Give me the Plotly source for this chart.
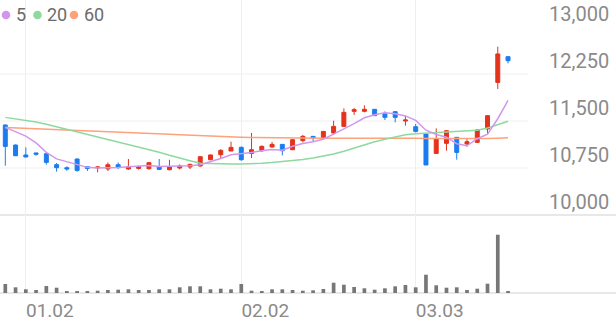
import plotly.graph_objects as go

# ---------------- data ----------------
idx = list(range(50))
opens = [11436, 11117, 10958, 10990, 10978, 10803, 10755, 10894, 10771, 10750,
         10734, 10803, 10734, 10744, 10739, 10771, 10723, 10750, 10766, 10782,
         10882, 10962, 11021, 11079, 10983, 11026, 11085, 11127, 11042, 11186,
         11255, 11229, 11309, 11414, 11654, 11654, 11686, 11622, 11649, 11500,
         11409, 11293, 10983, 11143, 11239, 11133, 11159, 11373, 12116, 12526]
highs = [11445, 11125, 11079, 10995, 10985, 10830, 10776, 10900, 10775, 10782,
         10839, 10839, 10894, 10787, 10846, 10894, 10882, 10808, 10819, 10935,
         10965, 11053, 11170, 11095, 11308, 11111, 11165, 11133, 11210, 11277,
         11260, 11340, 11505, 11701, 11707, 11750, 11692, 11654, 11655, 11585,
         11452, 11300, 11382, 11350, 11245, 11213, 11362, 11590, 12686, 12530]
lows = [10787, 10940, 10920, 10946, 10803, 10691, 10707, 10691, 10702, 10680,
        10702, 10734, 10723, 10723, 10723, 10723, 10712, 10728, 10734, 10771,
        10875, 10894, 11021, 10867, 10910, 11005, 11074, 10951, 11035, 11159,
        11175, 11225, 11282, 11404, 11596, 11638, 11580, 11516, 11478, 11425,
        11318, 10798, 10983, 11026, 10883, 11090, 11155, 11293, 12011, 12420]
closes = [11095, 10946, 10926, 10970, 10840, 10755, 10734, 10712, 10744, 10766,
          10803, 10760, 10771, 10771, 10835, 10728, 10766, 10782, 10808, 10930,
          10958, 11031, 11079, 10882, 11042, 11095, 11127, 11026, 11202, 11255,
          11229, 11334, 11414, 11638, 11681, 11686, 11585, 11558, 11558, 11516,
          11334, 10798, 11213, 11345, 10999, 11170, 11357, 11585, 12570, 12462]
volumes = [90000, 57000, 37000, 30000, 70000, 53000, 17000, 17000, 17000, 23000,
           30000, 33000, 37000, 30000, 30000, 37000, 37000, 57000, 67000, 67000,
           37000, 43000, 37000, 90000, 23000, 20000, 37000, 37000, 30000, 23000,
           27000, 40000, 103000, 83000, 60000, 47000, 33000, 47000, 67000, 80000,
           57000, 183000, 77000, 53000, 57000, 30000, 43000, 93000, 583000, 13000]
ma5 = [11398, 11330, 11260, 11150, 11000, 10895, 10850, 10808, 10760, 10750,
       10752, 10757, 10769, 10774, 10788, 10773, 10774, 10776, 10784, 10803,
       10849, 10902, 10961, 10976, 10998, 11026, 11045, 11034, 11098, 11141,
       11168, 11209, 11287, 11374, 11459, 11551, 11601, 11630, 11614, 11581,
       11510, 11353, 11284, 11241, 11138, 11105, 11217, 11291, 11536, 11829]
ma20 = [11558, 11537, 11513, 11484, 11449, 11409, 11369, 11329, 11290, 11250,
        11210, 11170, 11130, 11090, 11050, 11002, 10954, 10906, 10867, 10827,
        10819, 10814, 10814, 10814, 10816, 10827, 10838, 10851, 10867, 10886,
        10910, 10938, 10974, 11018, 11069, 11122, 11170, 11210, 11250, 11282,
        11298, 11306, 11314, 11318, 11325, 11334, 11352, 11388, 11441, 11497]
ma60 = [11398, 11392, 11385, 11378, 11372, 11365, 11358, 11352, 11345, 11339,
        11333, 11327, 11320, 11313, 11305, 11297, 11289, 11281, 11273, 11264,
        11255, 11249, 11244, 11240, 11236, 11233, 11231, 11229, 11228, 11227,
        11226, 11226, 11226, 11227, 11228, 11229, 11229, 11229, 11228, 11226,
        11224, 11220, 11218, 11216, 11214, 11214, 11216, 11220, 11226, 11232]
x_tick_pos = [2, 23, 40]
x_tick_text = ["01.02", "02.02", "03.03"]
y_ticks = [10000, 10750, 11500, 12250, 13000]
y_tick_text = ["10,000", "10,750", "11,500", "12,250", "13,000"]
ma_names = ["5", "20", "60"]

# ---------------- style ----------------
W, H = 616, 321
PL, PR, PT, PB = 0, 88, 0, 28
PW, PH = W - PL - PR, H - PT - PB
RED, BLUE = "#e5321c", "#1a7cf0"
MA_COLORS = ["#d197ee", "#8ed99e", "#fda27b"]
GRID = "#efefef"
SPLIT = 78 / PH


def px2x(px):
    return (px - PL) / PW


def py2y(py):
    return (PH + PT - py) / PH


fig = go.Figure()
fig.add_trace(go.Candlestick(
    x=idx, open=opens, high=highs, low=lows, close=closes,
    increasing=dict(line=dict(color=RED, width=1), fillcolor=RED),
    decreasing=dict(line=dict(color=BLUE, width=1), fillcolor=BLUE),
    whiskerwidth=0, xaxis="x", yaxis="y", hoverinfo="skip"))
for vals, col in zip([ma60, ma20, ma5], MA_COLORS[::-1]):
    fig.add_trace(go.Scatter(x=idx, y=vals, mode="lines",
                             line=dict(color=col, width=1.5),
                             xaxis="x", yaxis="y", hoverinfo="skip"))
fig.add_trace(go.Bar(x=idx, y=volumes, marker=dict(color="#777777", line=dict(width=0)),
                     width=0.36, xaxis="x", yaxis="y2", hoverinfo="skip"))

shapes = []
for v in y_ticks[1:-1]:
    shapes.append(dict(type="line", xref="paper", yref="y", x0=0, x1=1, y0=v, y1=v,
                       line=dict(color=GRID, width=1), layer="below"))
# full-width separators
for yy in [SPLIT, 0]:
    shapes.append(dict(type="line", xref="paper", yref="paper", x0=0, x1=W / PW,
                       y0=yy, y1=yy, line=dict(color="#e8e8e8", width=2), layer="below"))

annotations = []
dot_cx = [6, 37.5, 74]
txt_x = [13.5, 45, 81.5]
for name, col, cx, tx in zip(ma_names, MA_COLORS, dot_cx, txt_x):
    r = 4.3
    shapes.append(dict(type="circle", xref="paper", yref="paper",
                       x0=px2x(cx - r), x1=px2x(cx + r), y0=py2y(15 + r), y1=py2y(15 - r),
                       fillcolor=col, line=dict(width=0)))
    annotations.append(dict(xref="paper", yref="paper", x=px2x(tx), y=py2y(15),
                            xanchor="left", yanchor="middle", text=name, showarrow=False,
                            font=dict(family="Roboto", size=18, color="#6b6b6b")))

x0 = -(5.3 - 0) / 10.26
fig.update_layout(
    width=W, height=H, margin=dict(l=PL, r=PR, t=PT, b=PB),
    paper_bgcolor="white", plot_bgcolor="white",
    showlegend=False, hovermode=False, boxgap=0.45,
    shapes=shapes, annotations=annotations,
    xaxis=dict(anchor="y2", range=[x0, x0 + PW / 10.26], rangeslider=dict(visible=False),
               tickmode="array", tickvals=x_tick_pos, ticktext=x_tick_text,
               showgrid=True, gridcolor=GRID, gridwidth=1, zeroline=False,
               showline=False, ticks="", ticklabelshift=24, ticklabelstandoff=4,
               tickfont=dict(family="Roboto", size=19, color="#8a8a8a")),
    yaxis=dict(domain=[SPLIT, 1], range=[10000, 10000 + 215 * 750 / 47], side="right",
               anchor="x", tickmode="array", tickvals=y_ticks, ticktext=y_tick_text,
               showgrid=False, zeroline=False, showline=False, ticks="",
               ticklabelstandoff=20, ticklabelshift=-13,
               tickfont=dict(family="Roboto", size=20, color="#8a8a8a")),
    yaxis2=dict(domain=[0, SPLIT], range=[0, 780000], anchor="x",
                showgrid=False, zeroline=False, showline=False, showticklabels=False, ticks=""),
)

fig.write_html("out.html")
